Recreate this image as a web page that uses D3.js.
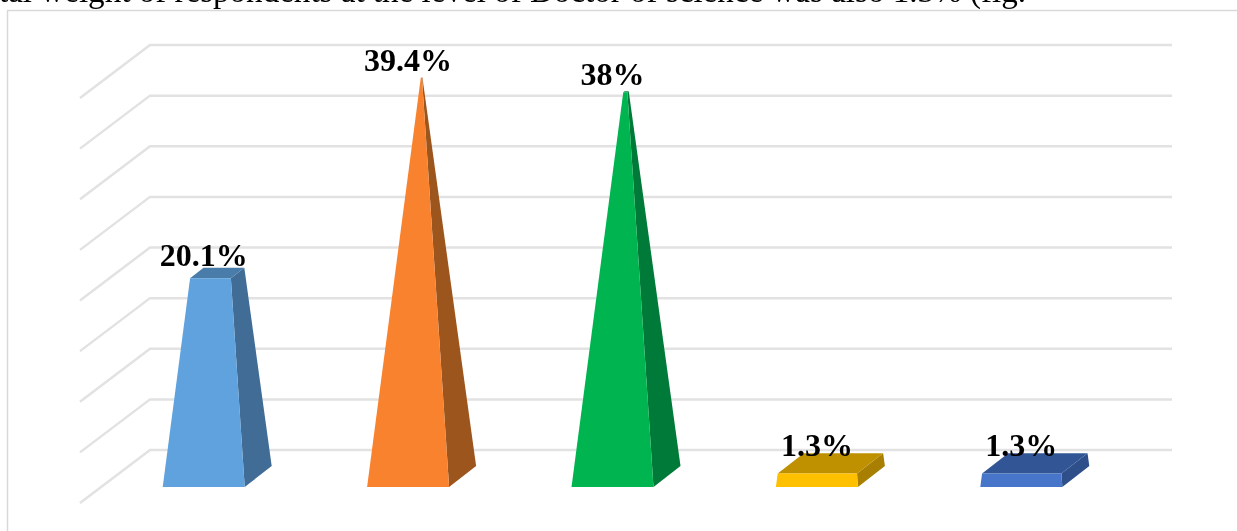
<!DOCTYPE html>
<html>
<head>
<meta charset="utf-8">
<script src="https://cdn.jsdelivr.net/npm/d3@7"></script>
<style>
html,body{margin:0;padding:0;background:#fff;overflow:hidden}
svg{display:block}
</style>
</head>
<body>
<svg id="c" width="1237" height="531"></svg>
<script>
const categories = ["A","B","C","D","E"];
const values = [20.1,39.4,38,1.3,1.3];
const valueLabels = ["20.1%","39.4%","38%","1.3%","1.3%"];
const gridTicks = [0,5,10,15,20,25,30,35,40];
const frontColors = ["#5fa2dd","#f8822f","#00b550","#ffc000","#4674c9"];
const sideColors = ["#3f6c96","#9c551e","#007a37","#a87f00","#2d4f8a"];
const topColors = ["#4a7ba8","#b5642a","#008a40","#bf9000","#335795"];
const captionText = "tal weight of respondents at the level of Doctor of science was also 1.3% (fig.";

const W=1237,H=531;
const svg=d3.select("#c");
const defs=svg.append("defs");
const addBlur=(id,s)=>defs.append("filter").attr("id",id)
  .attr("filterUnits","userSpaceOnUse").attr("x",0).attr("y",0).attr("width",W).attr("height",H)
  .append("feGaussianBlur").attr("stdDeviation",s);
addBlur("soft",0.7);
addBlur("softText",0.35);

// the cut-off line of running text above the chart, and the chart frame
svg.append("text").text(captionText)
  .attr("x",-1).attr("y",2)
  .attr("font-family","'Liberation Serif'").attr("font-size",33.1).attr("fill","#000")
  .attr("filter","url(#softText)");
svg.append("path").attr("d",`M7.5,${H}V10.5H${W}`).attr("fill","none").attr("stroke","#d9d9d9").attr("stroke-width",1.5);

// 3D projection: back wall → floor depth
const floorDX=-70, floorDY=53;
const y=d3.scaleLinear().domain([0,40]).range([450,45]);
const x=d3.scaleBand().domain(categories).range([115,1137]);
const barW=82, depthX=27, depthY=-21;

const grid=svg.append("g").attr("filter","url(#soft)");
grid.selectAll("path").data(gridTicks).join("path")
  .attr("d",d=>`M${150+floorDX},${y(d)+floorDY}L150,${y(d)}H1172`)
  .attr("fill","none").attr("stroke","#e2e2e2").attr("stroke-width",2.5);

const bars=svg.append("g").attr("filter","url(#soft)");
categories.forEach((c,i)=>{
  const v=values[i];
  const cx=x(c)+x.bandwidth()/2;
  const cy0=y(0)+floorDY/2;
  const apexY=y(40)+floorDY/2;
  const t=v/40;
  const corner=(sx,sz)=>{ // sx: -1/1 left/right, sz: 0 front, 1 back
    const bx=cx-depthX/2+sx*barW/2+sz*depthX;
    const by=cy0-depthY/2+sz*depthY;
    return {b:[bx,by],t:[bx+(cx-bx)*t,by+(apexY-by)*t]};
  };
  const fl=corner(-1,0),fr=corner(1,0),br=corner(1,1),bl=corner(-1,1);
  const poly=a=>"M"+a.map(p=>p.join(",")).join("L")+"Z";
  bars.append("path").attr("d",poly([fr.b,br.b,br.t,fr.t])).attr("fill",sideColors[i]);
  bars.append("path").attr("d",poly([fl.t,fr.t,br.t,bl.t])).attr("fill",topColors[i]);
  bars.append("path").attr("d",poly([fl.b,fr.b,fr.t,fl.t])).attr("fill",frontColors[i]);
});

svg.append("g").attr("filter","url(#softText)").selectAll("text").data(categories).join("text")
  .text((c,i)=>valueLabels[i])
  .attr("x",c=>x(c)+x.bandwidth()/2-depthX/2)
  .attr("y",(c,i)=>y(values[i])+floorDY/2-7)
  .attr("text-anchor","middle")
  .attr("font-family","'Liberation Serif'").attr("font-weight","bold")
  .attr("font-size",32).attr("fill","#000");
</script>
</body>
</html>
